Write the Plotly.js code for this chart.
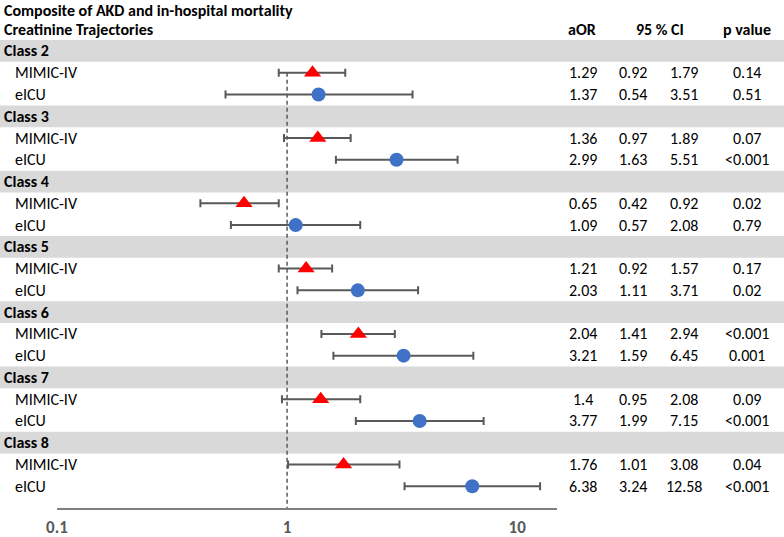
<!DOCTYPE html>
<html>
<head>
<meta charset="utf-8">
<script src="https://cdn.plot.ly/plotly-3.0.1.min.js"></script>
<style>
  html, body { margin: 0; padding: 0; background: #fff; }
  #forest { width: 784px; height: 537px; }
</style>
</head>
<body>
<div id="forest"></div>
<script>
var classes = ['Class 2', 'Class 3', 'Class 4', 'Class 5', 'Class 6', 'Class 7', 'Class 8'];
var cohorts = ['MIMIC-IV', 'eICU'];

var mimicOR = [1.29, 1.36, 0.65, 1.21, 2.04, 1.4, 1.76];
var mimicLo = [0.92, 0.97, 0.42, 0.92, 1.41, 0.95, 1.01];
var mimicHi = [1.79, 1.89, 0.92, 1.57, 2.94, 2.08, 3.08];
var mimicP = ['0.14', '0.07', '0.02', '0.17', '<0.001', '0.09', '0.04'];

var eicuOR = [1.37, 2.99, 1.09, 2.03, 3.21, 3.77, 6.38];
var eicuLo = [0.54, 1.63, 0.57, 1.11, 1.59, 1.99, 3.24];
var eicuHi = [3.51, 5.51, 2.08, 3.71, 6.45, 7.15, 12.58];
var eicuP = ['0.51', '<0.001', '0.79', '0.02', '0.001', '<0.001', '<0.001'];

var tickVals = [0.1, 1, 10];
var tickText = ['0.1', '1', '10'];

var FONT = 'Carlito, Calibri, Lato, sans-serif';
var W = 784;
var Y_TOP = -2.342;

// row index: each class takes 3 rows (header, MIMIC-IV, eICU)
var mimicRows = classes.map(function (c, i) { return 3 * i + 1; });
var eicuRows = classes.map(function (c, i) { return 3 * i + 2; });

function errPlus(or, hi) { return or.map(function (v, i) { return hi[i] - v; }); }
function errMinus(or, lo) { return or.map(function (v, i) { return v - lo[i]; }); }

var trace1 = {
    x: mimicOR,
    y: mimicRows,
    mode: 'markers',
    type: 'scatter',
    name: 'MIMIC-IV',
    marker: { symbol: 'triangle-up', color: '#ff0000', size: 15 },
    error_x: {
        type: 'data', symmetric: false,
        array: errPlus(mimicOR, mimicHi),
        arrayminus: errMinus(mimicOR, mimicLo),
        color: '#595959', thickness: 2, width: 4
    },
    hoverinfo: 'x'
};

var trace2 = {
    x: eicuOR,
    y: eicuRows,
    mode: 'markers',
    type: 'scatter',
    name: 'eICU',
    marker: { symbol: 'circle', color: '#3f72c6', size: 14 },
    error_x: {
        type: 'data', symmetric: false,
        array: errPlus(eicuOR, eicuHi),
        arrayminus: errMinus(eicuOR, eicuLo),
        color: '#595959', thickness: 2, width: 4
    },
    hoverinfo: 'x'
};

var shapes = [];
classes.forEach(function (c, i) {
    shapes.push({
        type: 'rect', xref: 'paper', yref: 'y', layer: 'below',
        x0: 0, x1: 1, y0: 3 * i - 0.5, y1: 3 * i + 0.5,
        fillcolor: '#d9d9d9', line: { width: 0 }
    });
});
// reference line at OR = 1
shapes.push({
    type: 'line', xref: 'x', yref: 'y', layer: 'below',
    x0: 1, x1: 1, y0: 1, y1: 21,
    line: { color: '#595959', width: 1.5, dash: '4px,3px' }
});

var annotations = [];
function txt(x, y, s, opts) {
    opts = opts || {};
    annotations.push({
        xref: 'paper', yref: 'y', x: x / W, y: y, text: s,
        showarrow: false, xanchor: opts.anchor || 'center', yanchor: opts.vanchor || 'middle',
        borderpad: 0,
        font: { family: FONT, size: 16, color: '#000' }
    });
}

txt(3, Y_TOP, '<b>Composite of AKD and in-hospital mortality</b>', { anchor: 'left', vanchor: 'top' });
txt(3, -1, '<b>Creatinine Trajectories</b>', { anchor: 'left' });
txt(582, -1, '<b>aOR</b>');
txt(660, -1, '<b>95 % CI</b>');
txt(747, -1, '<b>p value</b>');

classes.forEach(function (c, i) {
    txt(3, 3 * i, '<b>' + c + '</b>', { anchor: 'left' });
    var rows = [
        [cohorts[0], mimicOR[i], mimicLo[i], mimicHi[i], mimicP[i], mimicRows[i]],
        [cohorts[1], eicuOR[i], eicuLo[i], eicuHi[i], eicuP[i], eicuRows[i]]
    ];
    rows.forEach(function (r) {
        txt(14, r[5], r[0], { anchor: 'left' });
        txt(583, r[5], String(r[1]));
        txt(633, r[5], String(r[2]));
        txt(684, r[5], String(r[3]));
        txt(747, r[5], r[4]);
    });
});

var layout = {
    width: 784,
    height: 537,
    margin: { l: 0, r: 0, t: 0, b: 29 },
    paper_bgcolor: '#fff',
    plot_bgcolor: 'rgba(0,0,0,0)',
    showlegend: false,
    xaxis: {
        type: 'log',
        domain: [57 / W, 557 / W],
        range: [-1, Math.log10(14.9)],
        tickvals: tickVals,
        ticktext: tickText,
        tickfont: { family: FONT, size: 17, color: '#595959', weight: 'bold' },
        ticklabelstandoff: 3,
        showgrid: false,
        zeroline: false,
        showline: true,
        linecolor: '#808080',
        linewidth: 2,
        ticks: ''
    },
    yaxis: {
        range: [21, Y_TOP],
        visible: false,
        fixedrange: true
    },
    shapes: shapes,
    annotations: annotations
};

Plotly.newPlot('forest', [trace1, trace2], layout, { displayModeBar: false, staticPlot: true });
</script>
</body>
</html>
